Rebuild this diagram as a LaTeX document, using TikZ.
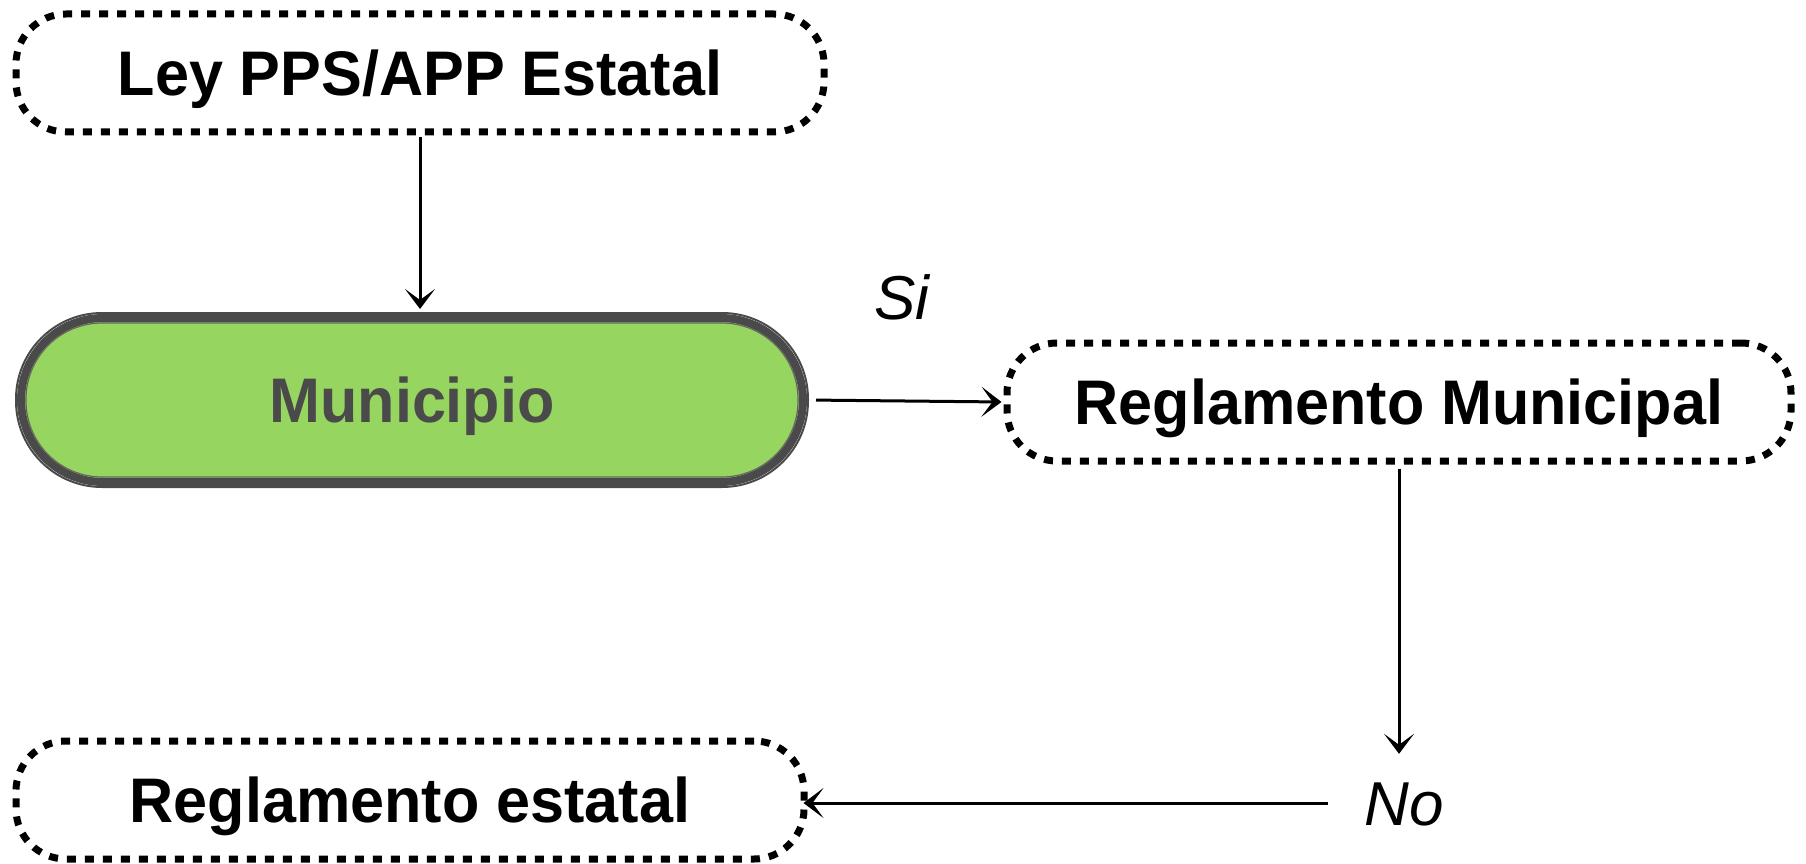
\documentclass[tikz,border=0pt]{standalone}
\usepackage{fontspec}
\setmainfont{Liberation Sans}
\newfontfamily\boldlab[FakeStretch=0.97]{Liberation Sans}
\usetikzlibrary{arrows.meta}
\definecolor{munigreen}{HTML}{96D55F}
\definecolor{sketchgray}{HTML}{4A4A4A}
\begin{document}
\begin{tikzpicture}[x=1pt,y=-1pt,
  lbl/.style={font=\boldlab\bfseries\fontsize{63}{70}\selectfont, text height=45pt, text depth=0pt},
  dotbox/.style={lbl, draw=black, line width=7pt, dash pattern=on 9pt off 9pt,
    rounded corners=50pt, minimum width=#1, minimum height=118pt, inner sep=0pt},
  munibox/.style={lbl, text=sketchgray, fill=munigreen, draw=sketchgray, line width=8pt,
    rounded corners=82pt, minimum width=782pt, minimum height=164pt, inner sep=0pt},
  answer/.style={font=\itshape\fontsize{62}{70}\selectfont, text height=44pt, text depth=0pt,
    inner xsep=36pt, inner ysep=27pt},
  connector/.style={draw=black, line width=3pt,
    -{Stealth[length=20pt,width=30pt,inset=11pt]}}
]
\useasboundingbox (0,0) rectangle (1806,864);

\node[dotbox=808pt] (ley) at (420,73) {Ley PPS/APP Estatal};
\node[munibox] (muni) at (412,400) {Municipio};
\draw[sketchgray, line width=2pt, rounded corners=86pt]
  ([shift={(-1,-1)}]muni.north west) rectangle ([shift={(1,1)}]muni.south east);
\draw[sketchgray!85, line width=1.2pt, rounded corners=76pt]
  ([shift={(9,9)}]muni.north west) rectangle ([shift={(-9,-9)}]muni.south east);
\node[dotbox=784pt] (regmun) at (1399,402) {Reglamento Municipal};
\node[dotbox=788pt] (regest) at (410,800) {Reglamento estatal};

\node[answer] (si) at (902,297) {Si};
\node[answer] (no) at (1404,803) {No};

\draw[connector, shorten <=2pt, shorten >=5pt] (ley.south) -- (ley.south |- muni.north);
\draw[connector, shorten <=9pt, shorten >=2pt] (muni.east) -- (regmun.west);
\draw[connector, shorten <=4pt] (regmun.south) -- (regmun.south |- no.north);
\draw[connector, shorten >=-4pt] (no.west) -- (no.west -| regest.east);
\end{tikzpicture}
\end{document}
